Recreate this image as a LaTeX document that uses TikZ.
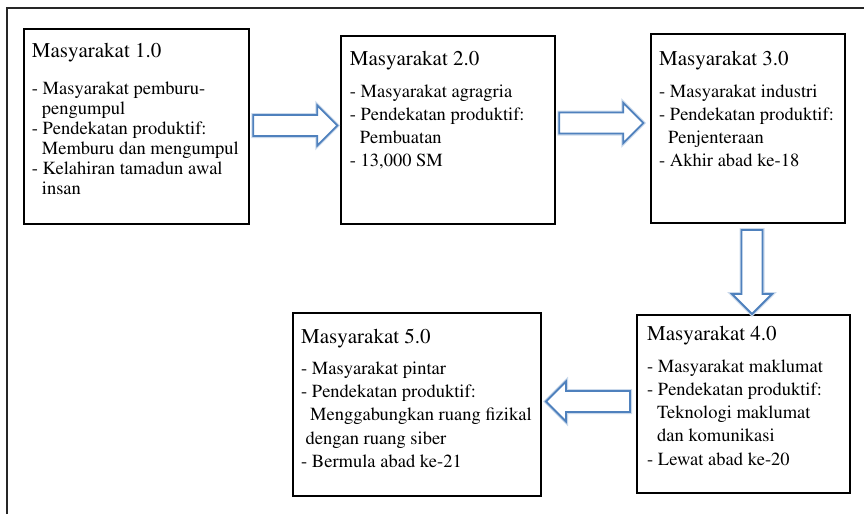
\documentclass[tikz,border=0pt]{standalone}
\usepackage[T1]{fontenc}
\renewcommand{\rmdefault}{ptm}
\usetikzlibrary{calc}

\definecolor{arrowblue}{HTML}{4F81BD}
\newcommand{\stagetitle}[1]{{\fontsize{21}{25}\selectfont #1}}

\begin{document}
\begin{tikzpicture}[x=1pt, y=-1pt,
  stage/.style={draw, line width=2.6pt, inner sep=0pt},
  stagetext/.style={anchor=north west, align=left, inner sep=0pt,
                    font=\rmfamily\fontsize{18.5}{23.3}\selectfont},
  flow/.style={draw=arrowblue, line width=1.8pt, fill=white,
               preaction={draw=arrowblue!30, line width=4pt}},
  frame/.style={draw=black!85, line width=2pt},
]
\useasboundingbox (0,0) rectangle (864,514);

% outer frame (only top and left edges are visible)
\draw[frame] (7,514) -- (7,8) -- (864,8);

% the five stages
\node[stage, minimum width=225pt, minimum height=195pt,
  label={[stagetext, xshift=9pt, yshift=-15.2pt, font=\rmfamily\fontsize{18.5}{20}\selectfont]north west:{%
    \stagetitle{Masyarakat 1.0}\\[17pt]
    - Masyarakat pemburu-\\
    \hspace*{10pt}pengumpul\\
    - Pendekatan produktif:\\
    \hspace*{10pt}Memburu dan mengumpul\\
    - Kelahiran tamadun awal\\
    \hspace*{10pt}insan}}] (m1) at (136.5,126.5) {};

\node[stage, minimum width=214pt, minimum height=188pt,
  label={[stagetext, xshift=10pt, yshift=-16.6pt]north west:{%
    \stagetitle{Masyarakat 2.0}\\[8pt]
    - Masyarakat agragria\\
    - Pendekatan produktif:\\
    \hspace*{10pt}Pembuatan\\
    - 13,000 SM}}] (m2) at (448,130) {};

\node[stage, minimum width=194pt, minimum height=189pt,
  label={[stagetext, xshift=9.3pt, yshift=-18.6pt]north west:{%
    \stagetitle{Masyarakat 3.0}\\[8pt]
    - Masyarakat industri\\
    - Pendekatan produktif:\\
    \hspace*{9pt}Penjenteraan\\
    - Akhir abad ke-18}}] (m3) at (748,128.5) {};

\node[stage, minimum width=213pt, minimum height=178pt,
  label={[stagetext, xshift=11.3pt, yshift=-12.6pt]north west:{%
    \stagetitle{Masyarakat 4.0}\\[8pt]
    - Masyarakat maklumat\\
    - Pendekatan produktif:\\
    \hspace*{10pt}Teknologi maklumat\\
    \hspace*{10pt}dan komunikasi\\
    - Lewat abad ke-20}}] (m4) at (743.5,404) {};

\node[stage, minimum width=248pt, minimum height=183pt,
  label={[stagetext, xshift=9.3pt, yshift=-16.9pt]north west:{%
    \stagetitle{Masyarakat 5.0}\\[8pt]
    - Masyarakat pintar\\
    - Pendekatan produktif:\\
    \hspace*{9pt}Menggabungkan ruang fizikal\\
    \hspace*{4.5pt}dengan ruang siber\\
    - Bermula abad ke-21}}] (m5) at (417,404.5) {};

% hollow block arrows between the stages
\foreach \from/\dx/\dy/\ang in {m1.east/3/-1/0, m2.east/3/-7/0, m3.south/4/5.7/-90, m4.west/-5.7/-2.5/180} {
  \draw[flow, shift={($(\from)+(\dx,\dy)$)}, rotate=\ang]
    (0,-10.5) -- (64,-10.5) -- (64,-20) -- (84,0) -- (64,20) -- (64,10.5) -- (0,10.5) -- cycle;
}

\end{tikzpicture}
\end{document}
